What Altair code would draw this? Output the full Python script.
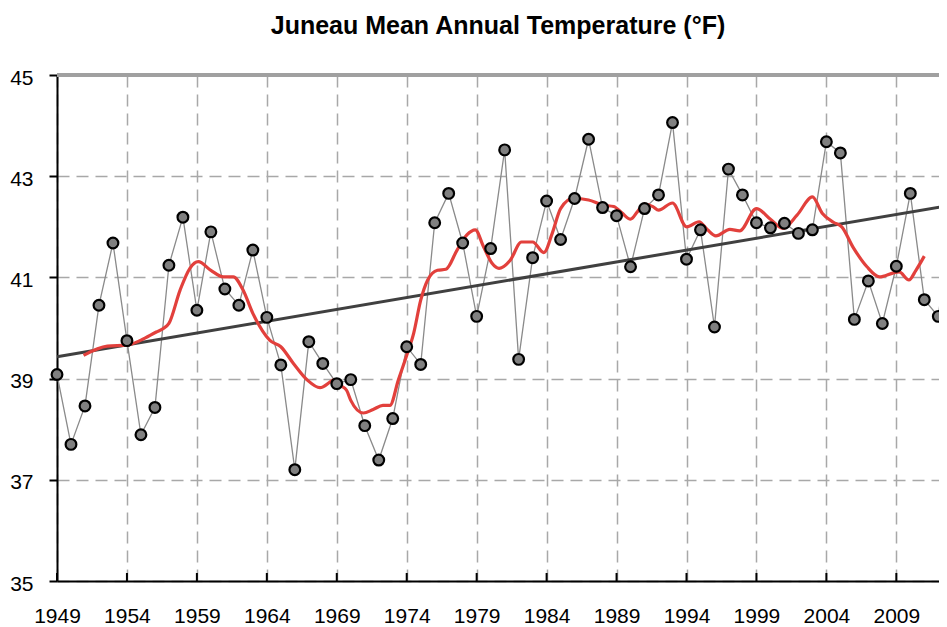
import altair as alt
import pandas as pd

# ---- data ----
years = list(range(1949, 2014))
temps = [39.08, 37.70, 38.46, 40.45, 41.68, 39.75, 37.89, 38.43, 41.24, 42.19,
         40.35, 41.90, 40.77, 40.45, 41.54, 40.21, 39.27, 37.20, 39.73, 39.30,
         38.90, 38.98, 38.07, 37.39, 38.21, 39.63, 39.28, 42.08, 42.66, 41.68,
         40.23, 41.57, 43.52, 39.38, 41.39, 42.51, 41.75, 42.56, 43.73, 42.38,
         42.22, 41.21, 42.36, 42.63, 44.06, 41.36, 41.94, 40.02, 43.14, 42.63,
         42.08, 41.98, 42.07, 41.87, 41.94, 43.68, 43.46, 40.17, 40.93, 40.09,
         41.22, 42.66, 40.56, 40.23, 42.40]

smooth_years = [1950.9, 1952.6, 1954.0, 1955.0, 1956.1, 1956.6, 1957.0, 1957.8,
                1958.5, 1959.1, 1960.0, 1960.9, 1961.6, 1962.3, 1963.0, 1963.7,
                1964.2, 1965.0, 1965.9, 1966.9, 1967.8, 1968.9, 1969.25, 1969.7,
                1970.0, 1970.9, 1971.6, 1972.3, 1972.8, 1973.4, 1974.0, 1974.5,
                1975.0, 1975.5, 1976.2, 1976.8, 1977.6, 1978.3, 1978.9, 1979.5,
                1980.1, 1980.6, 1981.4, 1982.2, 1983.0, 1983.8, 1984.4, 1985.0,
                1985.9, 1987.0, 1988.0, 1988.8, 1989.4, 1990.0, 1990.5, 1991.0,
                1991.6, 1992.0, 1993.0, 1994.0, 1994.9, 1995.5, 1996.1, 1997.1,
                1997.8, 1999.0, 2000.0, 2000.9, 2001.9, 2003.0, 2003.7, 2004.5,
                2005.1, 2005.9, 2006.9, 2007.8, 2008.8, 2009.2, 2009.9, 2010.4,
                2011.0]
smooth_temps = [39.46, 39.64, 39.66, 39.76, 39.92, 39.99, 40.09, 40.75,
                41.18, 41.31, 41.14, 41.01, 41.01, 40.75, 40.29, 39.94,
                39.76, 39.63, 39.30, 38.97, 38.82, 38.98, 38.87, 38.77,
                38.57, 38.32, 38.39, 38.47, 38.47, 38.97, 39.46, 39.90,
                40.55, 40.95, 41.14, 41.16, 41.54, 41.84, 41.94, 41.60,
                41.28, 41.18, 41.34, 41.70, 41.70, 41.49, 41.87, 42.36,
                42.56, 42.53, 42.43, 42.40, 42.27, 42.15, 42.30, 42.45,
                42.40, 42.33, 42.47, 42.00, 42.10, 41.94, 41.82, 41.95,
                41.92, 42.36, 42.15, 41.97, 42.23, 42.59, 42.27, 42.09,
                42.00, 41.60, 41.21, 41.01, 41.09, 41.11, 40.95, 41.14,
                41.42]

trend_years = [1949, 2013]
trend_temps = [39.43, 42.43]

tick_years = [1949, 1954, 1959, 1964, 1969, 1974, 1979, 1984, 1989, 1994, 1999, 2004, 2009]
y_ticks = [35, 37, 39, 41, 43, 45]

W, H = 882, 506
FONT = "Liberation Sans"

obs = pd.DataFrame({"year": years, "temp": temps})
smooth = pd.DataFrame({"year": smooth_years, "temp": smooth_temps})
trend = pd.DataFrame({"year": trend_years, "temp": trend_temps})
ticks = pd.DataFrame({"year": tick_years})

xscale = alt.Scale(domain=[1949, 2012.05], nice=False, zero=False)
yscale = alt.Scale(domain=[35, 45], nice=False, zero=False)

xaxis = alt.Axis(values=tick_years, format="d", title=None,
                 labelFont=FONT, labelFontSize=21, labelColor="black",
                 labelPadding=24, labelFlush=False, labelOverlap=False,
                 tickSize=0, domainColor="black", domainWidth=2,
                 grid=True, gridColor="#a8a8a8", gridDash=[12, 7], gridWidth=1.5)
yaxis = alt.Axis(values=y_ticks, format="d", title=None,
                 labelFont=FONT, labelFontSize=21, labelColor="black",
                 labelPadding=16, labelOffset=3, labelFlush=False,
                 tickSize=8, tickColor="black", tickWidth=2,
                 domainColor="black", domainWidth=2,
                 grid=True, gridColor="#a8a8a8", gridDash=[12, 7], gridWidth=1.5)

X = alt.X("year:Q", scale=xscale, axis=xaxis)
Y = alt.Y("temp:Q", scale=yscale, axis=yaxis)

gray_line = alt.Chart(obs).mark_line(color="#8a8a8a", strokeWidth=1.3).encode(x=X, y=Y)

top_border = alt.Chart(obs).mark_rule(color="#a0a0a0", strokeWidth=3).encode(
    y=alt.datum(45, scale=yscale))

inner_ticks = alt.Chart(ticks).mark_rule(color="black", strokeWidth=2).encode(
    x=alt.X("year:Q", scale=xscale, axis=xaxis),
    y=alt.value(H), y2=alt.value(H - 8))

trend_line = alt.Chart(trend).mark_line(color="#404040", strokeWidth=3).encode(x=X, y=Y)

smooth_line = alt.Chart(smooth).mark_line(color="#e2403c", strokeWidth=3.2,
                                          interpolate="monotone").encode(x=X, y=Y)

points = alt.Chart(obs).mark_circle(color="#808080", stroke="black", strokeWidth=2.2,
                                    size=115, opacity=1).encode(x=X, y=Y)

chart = alt.layer(gray_line, top_border, inner_ticks, trend_line, smooth_line, points).properties(
    width=W, height=H,
    autosize=alt.AutoSizeParams(type="none"),
    padding={"left": 49, "top": 67, "right": 0, "bottom": 45},
    title=alt.TitleParams("Juneau Mean Annual Temperature (°F)", font=FONT, fontSize=25,
                          fontWeight="bold", color="black", anchor="middle",
                          frame="group", offset=28),
).configure_view(stroke=None)

chart.save("out.html", embed_options={"renderer": "svg", "actions": False})
